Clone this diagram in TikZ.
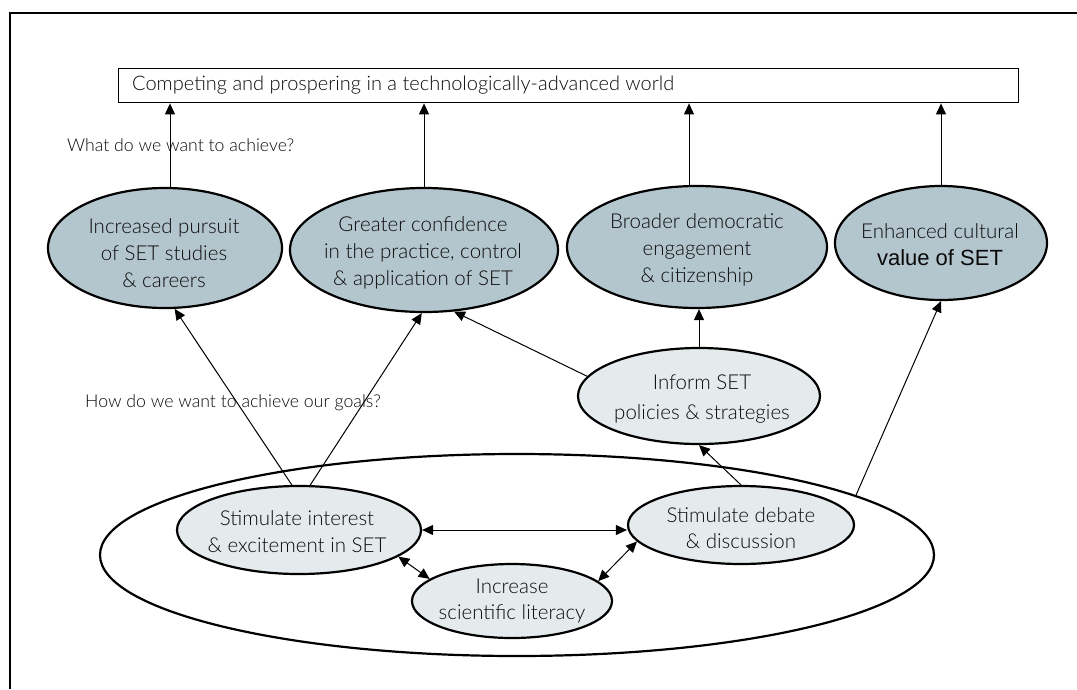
\documentclass[tikz,border=0pt]{standalone}
\usepackage{fontspec}
\setmainfont{Lato Light}
\newfontfamily\arialf{Liberation Sans}
\usetikzlibrary{shapes.geometric,arrows.meta,calc}
\definecolor{darkfill}{RGB}{180,198,205}
\definecolor{lightfill}{RGB}{229,234,237}
\definecolor{txtc}{RGB}{10,10,10}
\begin{document}
\begin{tikzpicture}[x=1pt,y=-1pt,
  darkell/.style={ellipse,draw,line width=2.2pt,fill=darkfill,inner sep=0pt},
  lightell/.style={ellipse,draw,line width=2.2pt,fill=lightfill,inner sep=0pt},
  lbl/.style={font=\fontsize{20.5}{27}\selectfont,align=center,text=txtc,inner sep=0pt},
  qlbl/.style={font=\fontsize{17.7}{20}\selectfont,text=txtc,inner sep=0pt,anchor=west},
  arr/.style={-{Triangle[length=11pt,width=10pt]},line width=1pt},
  darr/.style={{Triangle[length=11pt,width=10pt]}-{Triangle[length=11pt,width=10pt]},line width=1pt}]
\useasboundingbox (0,0) rectangle (1077,689);
% frame
\draw[line width=2.2pt] (1077,13) -- (10,13) -- (10,689);
% top box
\node[draw,line width=1.4pt,minimum width=900pt,minimum height=34pt,inner sep=0pt,anchor=north west] (box) at (118,68) {};
\node[anchor=west,inner sep=0pt,text=txtc,font=\fontsize{20}{24}\selectfont] (boxtxt) at (132,85) {Competing and prospering in a technologically-advanced world};
% question labels
\node[qlbl] (q1) at (67,145) {What do we want to achieve?};
\node[qlbl] (q2) at (85,403) {How do we want to achieve our goals?};
% outer ellipse
\node[ellipse,draw,line width=2.2pt,minimum width=834pt,minimum height=202pt,inner sep=0pt] (outer) at (517,555) {};
% top-row ellipses
\node[darkell,minimum width=234pt,minimum height=120pt] (inc) at (165,248) {};
\node[darkell,minimum width=268pt,minimum height=124pt] (gre) at (424,250) {};
\node[darkell,minimum width=260pt,minimum height=122pt] (bro) at (697,247) {};
\node[darkell,minimum width=212pt,minimum height=114pt] (enh) at (941,243) {};
\node[lbl] (inct) at (164,253) {Increased pursuit\\of SET studies\\\& careers};
\node[lbl] (gret) at (423,253) {Greater confidence\\in the practice, control\\\& application of SET};
\node[lbl] (brot) at (697,250) {Broader democratic\\engagement\\\& citizenship};
\node[lbl] (enht) at (940,245) {Enhanced cultural\\{\arialf\fontsize{22}{26}\selectfont value of SET}};
% lower ellipses
\node[lightell,minimum width=242pt,minimum height=96pt] (inf) at (699,396) {};
\node[lightell,minimum width=244pt,minimum height=88pt] (int) at (299,530) {};
\node[lightell,minimum width=226pt,minimum height=78pt] (deb) at (741,525) {};
\node[lightell,minimum width=200pt,minimum height=74pt] (lit) at (512,601) {};
\node[lbl,font=\fontsize{20.5}{30}\selectfont] (inft) at (702,399) {Inform SET\\policies \& strategies};
\node[lbl] (intt) at (297,532) {Stimulate interest\\\& excitement in SET};
\node[lbl,font=\fontsize{20.5}{26}\selectfont] (debt) at (741,528) {Stimulate debate\\\& discussion};
\node[lbl,font=\fontsize{20.5}{26}\selectfont] (litt) at (512,601) {Increase\\scientific literacy};
% arrows to top box
\draw[arr] ([xshift=5pt]inc.north) -- ([xshift=5pt]inc.north |- box.south);
\draw[arr] (gre.north) -- (gre.north |- box.south);
\draw[arr] ([xshift=-8pt]bro.north) -- ([xshift=-8pt]bro.north |- box.south);
\draw[arr] (enh.north) -- (enh.north |- box.south);
% arrows from lower level
\draw[arr] (int.99) -- (inc.-81);
\draw[arr] (int.76) -- (gre.-92);
\draw[arr] (inf.170) -- (gre.-64);
\draw[arr] (inf.north) -- (inf.north |- bro.south);
\draw[arr] (deb.north) -- (inf.south);
\draw[arr] (outer.10.4) -- (enh.south);
\draw[darr] (int.east) -- (int.east -| deb.west);
\draw[darr] (int.-15.5) -- (lit.165.8);
\draw[darr] (deb.-171) -- (lit.13.9);
\end{tikzpicture}
\end{document}
